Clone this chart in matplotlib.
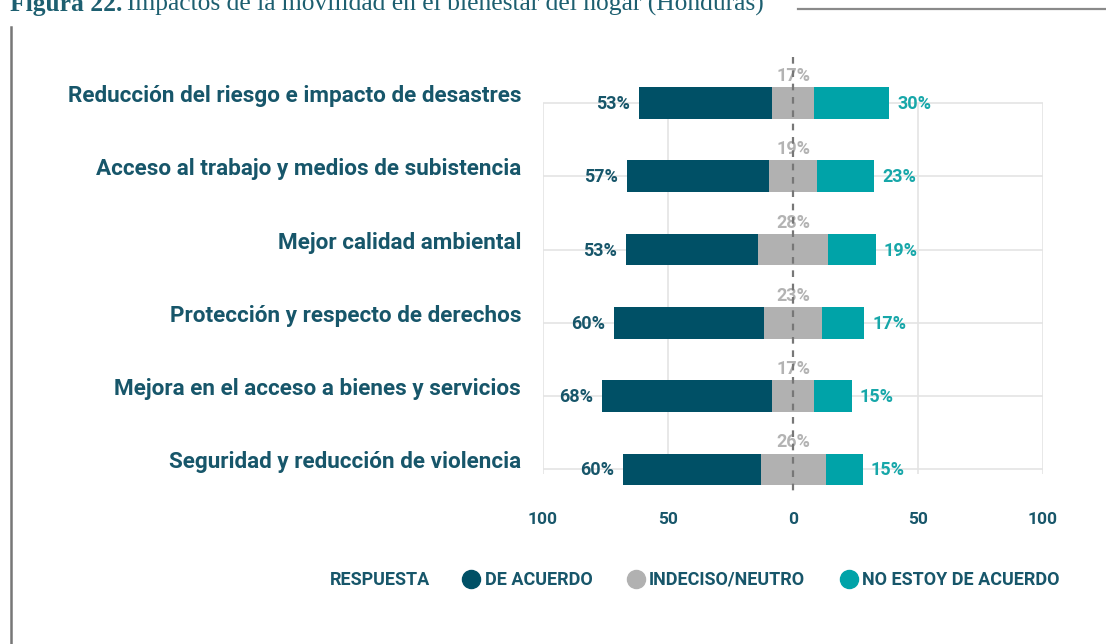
import matplotlib
matplotlib.use("Agg")
import matplotlib.pyplot as plt
from matplotlib.lines import Line2D

# --- data ---
categories = [
    "Reducción del riesgo e impacto de desastres",
    "Acceso al trabajo y medios de subistencia",
    "Mejor calidad ambiental",
    "Protección y respecto de derechos",
    "Mejora en el acceso a bienes y servicios",
    "Seguridad y reducción de violencia",
]
de_acuerdo = [53, 57, 53, 60, 68, 55]          # bar lengths as drawn
de_acuerdo_lbl = [53, 57, 53, 60, 68, 60]      # printed labels
neutro = [17, 19, 28, 23, 17, 26]
desacuerdo = [30, 23, 19, 17, 15, 15]
xticks = [-100, -50, 0, 50, 100]
xtick_labels = ["100", "50", "0", "50", "100"]
legend_names = ["DE ACUERDO", "INDECISO/NEUTRO", "NO ESTOY DE ACUERDO"]

C_AGREE = "#005066"
C_NEUT = "#b1b1b1"
C_DIS = "#00a3a8"
C_TEXT = "#17566a"
C_NEUT_TXT = "#b3b3b3"
C_DIS_TXT = "#17a7a9"
C_GRID = "#e4e4e4"

plt.rcParams["font.family"] = ["Roboto", "DejaVu Sans"]

W, H = 1106, 644
fig = plt.figure(figsize=(W / 100, H / 100), dpi=100)

# axes placed in pixel terms: x -100..100 -> 543..1043, rows 0..5 -> 103..469.5
ax = fig.add_axes([543 / W, 1 - 506 / H, 500 / W, (506 - 66.3) / H])
ax.set_xlim(-100, 100)
ax.set_ylim(5.5, -0.5)
for s in ax.spines.values():
    s.set_visible(False)

rows = range(len(categories))
ax.hlines(list(rows), -100, 101, color=C_GRID, lw=1.2, zorder=0)
ax.vlines([t for t in xticks if t != 0], 0, 5.06, color=C_GRID, lw=1.2, zorder=0)

h = 0.43
for i in rows:
    a, n, d = de_acuerdo[i], neutro[i], desacuerdo[i]
    left = -n / 2
    ax.barh(i, -a, left=left, height=h, color=C_AGREE, zorder=2)
    ax.barh(i, n, left=left, height=h, color=C_NEUT, zorder=2)
    ax.barh(i, d, left=n / 2, height=h, color=C_DIS, zorder=2)

    ax.annotate(f"{de_acuerdo_lbl[i]}%", (left - a, i), xytext=(-9, -1),
                textcoords="offset pixels", ha="right", va="center",
                fontsize=13, fontweight="bold", color=C_TEXT)
    ax.annotate(f"{n}%", (0, i), xytext=(0, 27), textcoords="offset pixels",
                ha="center", va="center", fontsize=13, fontweight="bold",
                color=C_NEUT_TXT, zorder=1)
    ax.annotate(f"{d}%", (n / 2 + d, i), xytext=(8, -1),
                textcoords="offset pixels", ha="left", va="center",
                fontsize=13, fontweight="bold", color=C_DIS_TXT)
    ax.annotate(categories[i], (0, i), xycoords=("axes fraction", "data"),
                xytext=(-22, 7), textcoords="offset pixels", ha="right",
                va="center", fontsize=16.2, fontweight="bold", color=C_TEXT)

# dashed zero line
ax.vlines(0, -0.63, 5.32, colors="#777777", lw=1.6, linestyles=(0, (3, 3)),
          zorder=3, clip_on=False)

ax.set_yticks([])
ax.set_xticks(xticks)
ax.set_xticklabels(xtick_labels, fontsize=12.5, fontweight="bold", color=C_TEXT)
ax.tick_params(axis="x", length=0, pad=4)

# legend
fig.text(330 / W, 1 - 580 / H, "RESPUESTA", ha="left", va="center",
         fontsize=13, fontweight="bold", color=C_TEXT)
handles = [Line2D([], [], ls="", marker="o", markersize=13, color=c)
           for c in (C_AGREE, C_NEUT, C_DIS)]
leg = fig.legend(handles, legend_names, loc="center left",
                 bbox_to_anchor=(443 / W, 1 - 580 / H), ncol=3, frameon=False,
                 handletextpad=0.1, columnspacing=1.75, handlelength=1.3,
                 prop={"size": 13, "weight": "bold"})
for t in leg.get_texts():
    t.set_color(C_TEXT)

# title, partly cut off at the top edge
ty = 1 - 11 / H
t1 = fig.text(10 / W, ty, "Figura 22.", ha="left", va="baseline",
              family="Liberation Serif", fontweight="bold", fontsize=18.4,
              color="#1d5f70")
r = fig.canvas.get_renderer()
x1 = t1.get_window_extent(r).x1
fig.text((x1 + 5) / W, ty, "Impactos de la movilidad en el bienestar del hogar (Honduras)",
         ha="left", va="baseline", family="Liberation Serif", fontsize=18.4,
         color="#1d5f70")

# frame lines
fig.add_artist(Line2D([798 / W, 1], [1 - 8.5 / H, 1 - 8.5 / H], color="#8a8a8a", lw=1.6))
fig.add_artist(Line2D([10.5 / W, 10.5 / W], [0, 1 - 27 / H], color="#777777", lw=1.8))

fig.savefig("out.png", dpi=100)
